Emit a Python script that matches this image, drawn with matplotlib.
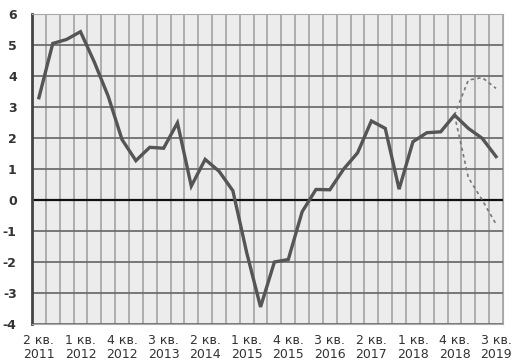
import numpy as np
import matplotlib.pyplot as plt

# quarters 2 кв. 2011 .. 3 кв. 2019
quarters = ["2 кв.\n2011", "", "", "1 кв.\n2012", "", "", "4 кв.\n2012", "", "", "3 кв.\n2013", "", "",
            "2 кв.\n2014", "", "", "1 кв.\n2015", "", "", "4 кв.\n2015", "", "", "3 кв.\n2016", "", "",
            "2 кв.\n2017", "", "", "1 кв.\n2018", "", "", "4 кв.\n2018", "", "", "3 кв.\n2019"]
values = [3.3, 5.05, 5.18, 5.43, 4.45, 3.35, 1.95, 1.27, 1.7, 1.67, 2.49, 0.45,
          1.31, 0.93, 0.3, -1.7, -3.45, -2.0, -1.92, -0.38, 0.34, 0.33, 1.0, 1.52,
          2.55, 2.31, 0.35, 1.88, 2.17, 2.2, 2.74, 2.31, 1.99, 1.4]
upper = [2.74, 3.87, 3.95, 3.6]
lower = [2.74, 0.72, 0.0, -0.78]
fc_start = 30

x = np.arange(len(values))
xf = np.arange(fc_start, fc_start + len(upper))

fig = plt.figure(figsize=(5.15, 3.64), dpi=100)
ax = fig.add_axes([0.0621, 0.1099, 0.9146, 0.8516])
ax.set_facecolor("#ececec")

# grid
for b in np.arange(-0.5, len(values), 1.0):
    ax.axvline(b, color="#a8a8a8", lw=1.3, zorder=1)
for v in range(-4, 7):
    ax.axhline(v, color="#6e6e6e", lw=1.3, zorder=1)
ax.axhline(0, color="#111111", lw=1.6, zorder=2)

ax.plot(x, values, color="#555555", lw=2.4, zorder=4, solid_joinstyle="miter")
ax.plot(xf, upper, color="#777777", lw=1.2, ls=(0, (2, 2)), zorder=3)
ax.plot(xf, lower, color="#777777", lw=1.2, ls=(0, (2, 2)), zorder=3)

ax.set_xlim(-0.5, len(values) - 0.5)
ax.set_ylim(-4, 6)
ax.set_yticks(range(-4, 7))
ax.set_yticklabels([str(v) for v in range(-4, 7)], fontsize=9, color="#333333", fontweight="bold")
ax.set_xticks(x)
ax.set_xticklabels(quarters, fontsize=9, color="#333333", linespacing=1.15)
ax.tick_params(axis="both", length=0)
ax.tick_params(axis="y", pad=11)
ax.tick_params(axis="x", pad=7)

for s in ["top", "right", "bottom"]:
    ax.spines[s].set_color("#a8a8a8")
ax.spines["left"].set_color("#444444")
ax.spines["left"].set_linewidth(2)

fig.savefig("out.png", dpi=100)
